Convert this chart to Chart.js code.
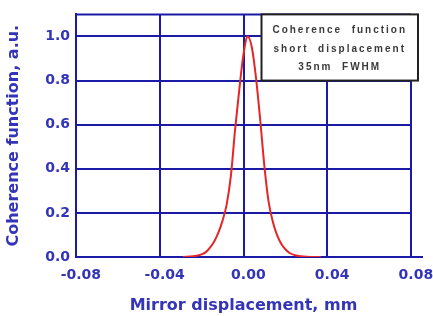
<!DOCTYPE html>
<html><head><meta charset="utf-8">
<script src="https://cdn.jsdelivr.net/npm/chart.js@4"></script>
<style>html,body{margin:0;padding:0;background:#fff;}#wrap{width:433px;height:316px;}</style>
</head><body><div id="wrap"><canvas id="c" width="433" height="316"></canvas></div>
<script>
const displacement = [-0.029,-0.024,-0.020,-0.018,-0.016,-0.014,-0.012,-0.010,-0.008,-0.006,-0.004,-0.002,0.000,0.002,0.004,0.006,0.008,0.010,0.012,0.014,0.016,0.018,0.020,0.022,0.025,0.030,0.037];
const coherence    = [0,0.003,0.012,0.022,0.042,0.07,0.11,0.165,0.24,0.37,0.58,0.76,0.92,1.0,0.95,0.81,0.62,0.41,0.25,0.16,0.10,0.06,0.035,0.018,0.007,0.001,0];
const xTickValues = [-0.08,-0.04,0,0.04,0.08];
const yTickValues = [0,0.2,0.4,0.6,0.8,1.0];
const noteLines = ["Coherence  function","short  displacement","35nm  FWHM"];
const xTitle = "Mirror displacement, mm";
const yTitle = "Coherence function, a.u.";

const gridBlue = '#1a1aa6';
const textBlue = '#3434b8';
const fam = '"DejaVu Sans", Verdana, sans-serif';

const notePlugin = {
  id:'note',
  afterDraw(chart){
    const ctx = chart.ctx;
    const y = chart.scales.y, x = chart.scales.x;
    const ca = chart.chartArea;
    ctx.save();
    ctx.strokeStyle = gridBlue; ctx.lineWidth = 2;
    ctx.beginPath(); ctx.moveTo(ca.left, ca.top); ctx.lineTo(ca.right, ca.top); ctx.stroke();
    ctx.beginPath(); ctx.moveTo(ca.right, ca.bottom); ctx.lineTo(ca.right + 12, ca.bottom); ctx.stroke();
    const left = x.getPixelForValue(0.0086), top = ca.top;
    const right = ca.right + 7, bottom = y.getPixelForValue(0.8);
    ctx.fillStyle = '#fff';
    ctx.fillRect(left, top, right-left, bottom-top);
    ctx.strokeStyle = '#222';
    ctx.strokeRect(left, top, right-left, bottom-top);
    ctx.fillStyle = '#3a3a3a';
    ctx.font = 'bold 10px "Liberation Sans", Arial, sans-serif';
    ctx.textAlign = 'center';
    ctx.textBaseline = 'middle';
    try { ctx.letterSpacing = '2px'; } catch(e) {}
    const cx = (left+right)/2;
    noteLines.forEach((t,i)=> ctx.fillText(t, cx, top + 16 + i*18.5));
    ctx.restore();
  }
};

new Chart(document.getElementById('c'), {
  type:'line',
  data:{ datasets:[{
    data: displacement.map((v,i)=>({x:v, y:coherence[i]})),
    borderColor:'#e52626', borderWidth:2, pointRadius:0, fill:false,
    cubicInterpolationMode:'monotone'
  }]},
  options:{
    responsive:false, animation:false, devicePixelRatio:1,
    layout:{padding:{top:11,right:22,left:0,bottom:0}},
    plugins:{legend:{display:false}, tooltip:{enabled:false}},
    scales:{
      x:{ type:'linear', min:-0.08, max:0.08,
        afterBuildTicks(s){ s.ticks = xTickValues.map(v=>({value:v})); },
        afterFit(s){ s.height = 59; s.paddingLeft = 0; s.paddingRight = 0; },
        grid:{ color:gridBlue, lineWidth:2, drawTicks:false },
        border:{ color:gridBlue, width:2 },
        ticks:{ color:textBlue, padding:10, font:{family:fam, size:14, weight:'bold'},
          callback:v=>'  ' + v.toFixed(2), maxRotation:0 },
        title:{ display:true, text:xTitle, color:textBlue, padding:{top:0,bottom:1},
          font:{family:fam, size:16, weight:'bold'} }
      },
      y:{ type:'linear', min:0, max:1.1,
        afterBuildTicks(s){ s.ticks = yTickValues.map(v=>({value:v})); },
        afterFit(s){ s.width = 76; },
        grid:{ color:gridBlue, lineWidth:2, drawTicks:false },
        border:{ color:gridBlue, width:2 },
        ticks:{ color:textBlue, padding:6, font:{family:fam, size:14, weight:'bold'},
          callback:v=>v.toFixed(1) },
        title:{ display:true, text:yTitle, color:textBlue, padding:{top:4,bottom:0},
          font:{family:fam, size:16, weight:'bold'} }
      }
    }
  },
  plugins:[notePlugin]
});
</script></body></html>
